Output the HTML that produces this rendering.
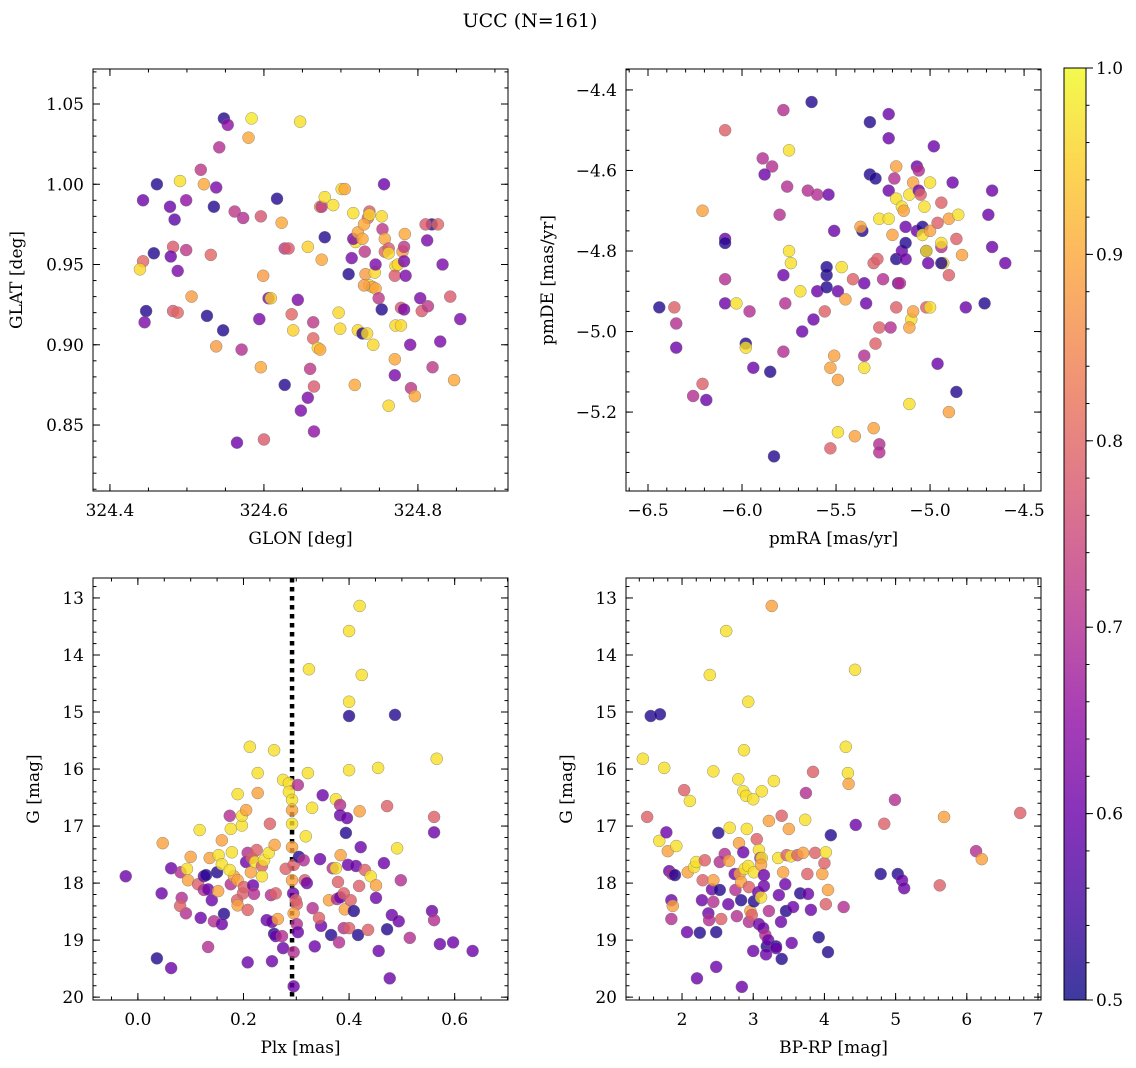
<!DOCTYPE html>
<html><head><meta charset="utf-8"><style>
body{margin:0;background:#fff}
svg{display:block;font-family:"DejaVu Serif","Liberation Serif",serif}
</style></head><body>
<svg id="s" width="1136" height="1068" viewBox="0 0 1136 1068" xmlns="http://www.w3.org/2000/svg">
<text x="530" y="27" font-size="19" text-anchor="middle">UCC (N=161)</text>
</svg>
<script>
// Panel 1 data
const glon=[324.548,324.553,324.584,324.580,324.647,324.542,324.461,324.491,324.443,324.478,324.484,324.518,324.522,324.538,324.535,324.499,324.562,324.573,324.596,324.617,324.623,324.627,324.632,324.644,324.599,324.606,324.609,324.594,324.636,324.638,324.547,324.526,324.506,324.531,324.482,324.479,324.488,324.499,324.457,324.443,324.439,324.447,324.445,324.482,324.488,324.538,324.571,324.596,324.627,324.565,324.600,324.648,324.657,324.665,324.665,324.660,324.664,324.670,324.673,324.664,324.657,324.675,324.673,324.675,324.679,324.690,324.701,324.705,324.679,324.699,324.697,324.710,324.714,324.716,324.719,324.716,324.722,324.722,324.728,324.734,324.742,324.718,324.735,324.737,324.737,324.730,324.731,324.728,324.732,324.737,324.741,324.730,324.744,324.745,324.745,324.753,324.754,324.757,324.749,324.753,324.756,324.757,324.762,324.762,324.771,324.770,324.774,324.780,324.782,324.783,324.782,324.784,324.778,324.782,324.771,324.778,324.770,324.770,324.762,324.791,324.796,324.790,324.803,324.805,324.813,324.818,324.810,324.812,324.826,324.832,324.819,324.829,324.842,324.855,324.847];
const glat=[1.041,1.037,1.041,1.029,1.039,1.023,1.000,1.002,0.990,0.986,0.978,1.009,1.000,0.998,0.986,0.990,0.983,0.979,0.980,0.991,0.976,0.960,0.960,0.928,0.943,0.929,0.929,0.916,0.919,0.909,0.909,0.918,0.930,0.956,0.961,0.955,0.946,0.959,0.957,0.952,0.947,0.921,0.914,0.921,0.920,0.899,0.897,0.886,0.875,0.839,0.841,0.859,0.867,0.874,0.846,0.885,0.904,0.898,0.897,0.914,0.961,0.953,0.986,0.986,0.992,0.987,0.997,0.997,0.967,0.910,0.920,0.944,0.954,0.982,0.964,0.966,0.970,0.909,0.907,0.907,0.900,0.875,0.979,0.983,0.981,0.975,0.958,0.966,0.944,0.937,0.936,0.937,0.945,0.935,0.950,0.980,0.972,0.958,0.929,0.922,1.000,0.966,0.960,0.957,0.949,0.943,0.950,0.958,0.961,0.969,0.952,0.943,0.923,0.922,0.912,0.912,0.891,0.881,0.862,0.873,0.868,0.900,0.929,0.921,0.924,0.975,0.975,0.965,0.975,0.950,0.886,0.902,0.930,0.916,0.878];
const prob1=[0.52,0.65,0.98,0.9,0.97,0.7,0.52,0.97,0.6,0.6,0.58,0.72,0.9,0.62,0.52,0.65,0.72,0.7,0.77,0.52,0.9,0.72,0.78,0.62,0.88,0.62,0.95,0.62,0.8,0.95,0.52,0.52,0.88,0.8,0.78,0.6,0.62,0.72,0.52,0.8,0.96,0.52,0.62,0.78,0.8,0.88,0.7,0.9,0.52,0.6,0.78,0.62,0.62,0.78,0.65,0.72,0.8,0.96,0.9,0.72,0.95,0.9,0.88,0.72,0.97,0.97,0.96,0.9,0.52,0.96,0.96,0.52,0.62,0.97,0.96,0.62,0.9,0.96,0.52,0.96,0.96,0.9,0.8,0.78,0.96,0.9,0.72,0.9,0.88,0.96,0.9,0.88,0.96,0.9,0.62,0.96,0.72,0.8,0.72,0.52,0.6,0.9,0.78,0.96,0.96,0.78,0.96,0.88,0.72,0.9,0.62,0.62,0.78,0.62,0.96,0.96,0.9,0.62,0.96,0.72,0.9,0.62,0.62,0.78,0.72,0.52,0.78,0.62,0.8,0.62,0.72,0.62,0.78,0.62,0.9];
// Panel 2 data
const pmra=[-6.44,-6.36,-6.35,-6.35,-6.21,-6.26,-6.19,-6.21,-6.09,-6.09,-6.09,-6.09,-6.09,-6.03,-5.98,-5.98,-5.94,-5.85,-5.83,-5.96,-5.78,-5.77,-5.89,-5.84,-5.88,-5.78,-5.75,-5.76,-5.80,-5.75,-5.74,-5.69,-5.78,-5.65,-5.63,-5.60,-5.54,-5.60,-5.68,-5.62,-5.55,-5.55,-5.51,-5.55,-5.56,-5.49,-5.47,-5.51,-5.53,-5.49,-5.49,-5.40,-5.53,-5.45,-5.41,-5.36,-5.37,-5.35,-5.35,-5.35,-5.34,-5.32,-5.32,-5.29,-5.30,-5.28,-5.29,-5.30,-5.27,-5.27,-5.27,-5.27,-5.25,-5.22,-5.22,-5.22,-5.22,-5.21,-5.20,-5.19,-5.18,-5.17,-5.16,-5.18,-5.15,-5.18,-5.18,-5.15,-5.14,-5.13,-5.13,-5.13,-5.11,-5.10,-5.11,-5.11,-5.09,-5.09,-5.07,-5.07,-5.06,-5.06,-5.05,-5.03,-5.04,-5.04,-5.02,-5.02,-5.01,-5.02,-5.00,-5.00,-5.00,-4.98,-4.96,-4.96,-4.94,-4.94,-4.94,-4.93,-4.94,-4.90,-4.90,-4.90,-4.88,-4.86,-4.86,-4.85,-4.83,-4.81,-4.71,-4.69,-4.67,-4.67,-4.60];
const pmde=[-4.94,-4.94,-4.98,-5.04,-5.13,-5.16,-5.17,-4.70,-4.50,-4.77,-4.78,-4.87,-4.93,-4.93,-5.03,-5.04,-5.09,-5.10,-5.31,-4.95,-5.05,-4.93,-4.57,-4.59,-4.61,-4.45,-4.55,-4.64,-4.71,-4.80,-4.83,-4.90,-4.86,-4.65,-4.43,-4.66,-4.66,-4.90,-5.00,-4.97,-4.89,-4.86,-4.75,-4.84,-4.95,-4.90,-4.84,-5.06,-5.09,-5.12,-5.25,-5.26,-5.29,-4.92,-4.87,-4.75,-4.74,-5.06,-5.09,-4.88,-4.93,-4.48,-4.61,-4.62,-4.83,-4.82,-5.03,-5.24,-4.72,-4.99,-5.28,-5.30,-4.87,-4.46,-4.52,-4.65,-4.72,-4.99,-4.76,-4.62,-4.94,-4.88,-4.88,-4.82,-4.80,-4.59,-4.67,-4.69,-4.70,-4.74,-4.78,-4.82,-4.66,-4.97,-4.99,-5.18,-4.95,-4.63,-4.59,-4.75,-4.60,-4.65,-4.66,-4.69,-4.74,-4.76,-4.80,-4.80,-4.83,-4.94,-4.94,-4.63,-4.75,-4.54,-5.08,-4.73,-4.68,-4.79,-4.78,-4.83,-4.83,-4.72,-4.86,-5.20,-4.63,-4.77,-5.15,-4.71,-4.81,-4.94,-4.93,-4.71,-4.65,-4.79,-4.83];
const prob2=[0.52,0.79,0.7,0.6,0.79,0.7,0.6,0.89,0.79,0.6,0.52,0.7,0.6,0.97,0.52,0.97,0.6,0.52,0.52,0.7,0.7,0.7,0.7,0.7,0.6,0.7,0.97,0.7,0.7,0.97,0.97,0.97,0.6,0.7,0.52,0.7,0.6,0.6,0.6,0.6,0.52,0.52,0.6,0.52,0.79,0.6,0.97,0.89,0.89,0.89,0.97,0.89,0.79,0.89,0.79,0.52,0.89,0.7,0.97,0.6,0.6,0.52,0.52,0.52,0.79,0.79,0.79,0.89,0.97,0.79,0.7,0.7,0.7,0.6,0.6,0.6,0.97,0.7,0.89,0.7,0.79,0.6,0.7,0.52,0.6,0.89,0.97,0.97,0.89,0.6,0.52,0.6,0.97,0.97,0.89,0.97,0.89,0.89,0.6,0.6,0.7,0.6,0.79,0.97,0.52,0.97,0.52,0.97,0.6,0.79,0.97,0.97,0.89,0.6,0.6,0.79,0.79,0.7,0.97,0.97,0.52,0.89,0.79,0.89,0.6,0.79,0.52,0.97,0.89,0.6,0.52,0.6,0.6,0.6,0.6];
// Panel 3 data
const plx=[-0.023,0.036,0.063,0.045,0.047,0.063,0.081,0.083,0.091,0.080,0.095,0.093,0.100,0.114,0.117,0.125,0.125,0.119,0.129,0.133,0.133,0.136,0.140,0.144,0.152,0.150,0.153,0.159,0.159,0.163,0.159,0.176,0.174,0.176,0.178,0.182,0.174,0.188,0.189,0.189,0.189,0.197,0.197,0.205,0.205,0.199,0.208,0.201,0.208,0.208,0.212,0.214,0.216,0.222,0.218,0.220,0.227,0.227,0.225,0.235,0.235,0.239,0.244,0.250,0.248,0.252,0.259,0.254,0.258,0.254,0.261,0.265,0.261,0.273,0.258,0.275,0.275,0.286,0.280,0.286,0.292,0.292,0.292,0.292,0.295,0.292,0.294,0.299,0.301,0.295,0.301,0.303,0.295,0.295,0.303,0.305,0.314,0.318,0.316,0.320,0.322,0.324,0.330,0.331,0.335,0.347,0.345,0.350,0.343,0.362,0.366,0.369,0.375,0.377,0.379,0.381,0.383,0.375,0.383,0.383,0.384,0.390,0.390,0.394,0.396,0.398,0.392,0.400,0.400,0.400,0.400,0.400,0.403,0.409,0.413,0.420,0.424,0.417,0.419,0.420,0.422,0.430,0.436,0.441,0.451,0.451,0.456,0.455,0.466,0.472,0.472,0.477,0.481,0.487,0.491,0.498,0.494,0.515,0.557,0.561,0.561,0.561,0.566,0.572,0.597,0.634];
const gmag3=[17.88,19.32,19.49,18.18,17.30,17.74,17.81,18.26,18.53,18.40,17.95,17.75,17.54,18.02,17.07,17.88,18.12,18.61,17.86,19.12,18.11,17.56,18.30,18.67,18.14,17.81,17.51,17.67,17.25,18.54,18.72,18.02,16.82,17.05,17.46,17.88,17.77,18.30,18.39,16.44,17.95,16.99,16.82,16.72,17.63,18.18,17.47,18.07,18.47,19.39,15.61,17.81,17.56,17.63,18.04,18.19,16.07,16.42,17.42,17.70,17.88,17.60,18.65,16.96,17.47,18.21,17.33,18.68,18.89,19.37,18.18,18.63,18.93,18.93,15.67,16.19,19.14,16.25,17.75,16.40,16.72,16.54,16.96,17.37,17.68,17.95,18.18,18.30,18.37,18.53,18.72,18.86,19.21,19.81,16.28,17.54,17.60,17.18,17.95,18.00,16.07,14.25,16.68,18.44,19.11,18.75,17.58,16.46,18.61,18.30,18.91,17.74,17.74,18.28,17.98,19.04,18.25,16.53,16.63,16.81,17.51,18.18,18.79,17.12,16.86,17.68,18.46,13.58,14.82,15.07,16.02,18.79,18.30,18.49,17.70,13.14,14.35,18.91,18.05,16.74,17.37,17.77,18.82,17.88,18.04,18.26,19.19,15.98,17.65,16.65,18.81,19.67,18.56,15.05,17.39,17.95,18.67,18.96,18.49,16.84,17.11,18.65,15.82,19.07,19.04,19.19];
const prob3=[0.6,0.52,0.6,0.6,0.89,0.6,0.7,0.7,0.7,0.79,0.89,0.97,0.89,0.79,0.97,0.6,0.7,0.6,0.52,0.7,0.6,0.89,0.6,0.7,0.89,0.52,0.97,0.97,0.89,0.52,0.6,0.7,0.7,0.97,0.97,0.89,0.97,0.79,0.89,0.97,0.89,0.97,0.97,0.89,0.6,0.79,0.7,0.79,0.79,0.6,0.97,0.89,0.79,0.97,0.6,0.7,0.97,0.89,0.79,0.79,0.97,0.97,0.6,0.79,0.97,0.7,0.89,0.6,0.52,0.6,0.79,0.89,0.6,0.7,0.97,0.97,0.6,0.97,0.79,0.97,0.89,0.97,0.97,0.89,0.79,0.89,0.6,0.79,0.79,0.89,0.7,0.6,0.7,0.6,0.7,0.52,0.7,0.97,0.79,0.6,0.97,0.97,0.97,0.7,0.6,0.6,0.6,0.6,0.79,0.89,0.52,0.7,0.97,0.7,0.79,0.7,0.6,0.97,0.7,0.6,0.89,0.79,0.7,0.52,0.6,0.6,0.89,0.97,0.97,0.52,0.97,0.79,0.79,0.52,0.6,0.97,0.97,0.52,0.79,0.89,0.6,0.79,0.79,0.97,0.89,0.6,0.6,0.97,0.6,0.79,0.52,0.6,0.6,0.52,0.97,0.7,0.6,0.7,0.6,0.79,0.6,0.7,0.97,0.6,0.6,0.6];
// Panel 4 data
const bprp=[1.45,1.51,1.56,1.69,1.75,1.68,1.78,1.80,1.82,1.86,1.85,1.85,1.87,1.92,1.90,2.03,2.07,2.08,2.11,2.17,2.20,2.21,2.25,2.28,2.29,2.32,2.37,2.38,2.39,2.42,2.44,2.44,2.44,2.48,2.48,2.51,2.53,2.55,2.53,2.60,2.62,2.65,2.67,2.66,2.74,2.75,2.77,2.79,2.80,2.81,2.83,2.84,2.83,2.86,2.86,2.87,2.88,2.90,2.93,2.91,2.93,2.94,2.96,2.94,2.98,3.00,3.01,3.01,3.00,3.05,3.07,3.08,3.08,3.10,3.11,3.12,3.12,3.11,3.14,3.15,3.15,3.17,3.19,3.18,3.21,3.22,3.22,3.26,3.29,3.32,3.32,3.35,3.36,3.39,3.40,3.40,3.42,3.45,3.46,3.47,3.50,3.53,3.54,3.56,3.62,3.66,3.70,3.73,3.74,3.76,3.77,3.81,3.84,3.87,3.92,3.97,4.00,4.02,4.02,4.05,4.05,4.09,4.27,4.30,4.33,4.34,4.43,4.44,4.79,4.84,4.99,5.03,5.09,5.12,5.62,5.68,6.13,6.21,6.75];
const gmag4=[15.82,16.84,15.07,15.04,15.98,17.26,17.11,17.44,17.79,17.84,18.30,18.63,18.40,17.35,17.86,16.37,18.86,17.81,16.56,17.72,17.63,19.67,18.87,18.30,17.95,17.60,18.53,18.65,14.35,18.11,16.04,18.33,17.95,19.47,18.86,17.12,18.12,18.63,17.63,17.49,13.58,18.37,17.03,17.61,17.84,18.12,18.58,16.18,17.30,17.84,17.98,19.82,18.30,16.39,17.46,15.67,17.75,16.47,14.82,17.05,17.70,18.07,18.49,18.68,18.56,16.53,17.81,18.32,19.19,17.23,18.16,18.72,17.42,17.56,18.25,16.39,17.56,17.68,18.79,17.86,18.05,18.91,19.11,19.25,19.00,18.49,16.91,13.14,16.21,19.11,19.14,17.56,18.21,18.68,19.33,16.82,17.81,18.02,18.49,17.51,17.05,17.53,19.05,18.42,17.51,18.18,17.47,16.89,16.42,17.84,18.19,18.47,16.05,17.47,18.95,17.84,17.65,18.37,17.46,19.21,18.12,17.16,18.42,15.61,16.07,16.26,14.26,16.98,17.84,16.96,16.54,17.84,17.95,18.09,18.04,16.84,17.44,17.58,16.77];
const prob4=[0.97,0.79,0.52,0.52,0.97,0.97,0.6,0.89,0.6,0.7,0.6,0.7,0.89,0.97,0.52,0.79,0.6,0.89,0.97,0.97,0.97,0.6,0.52,0.6,0.79,0.79,0.6,0.7,0.97,0.6,0.97,0.7,0.89,0.6,0.52,0.52,0.52,0.79,0.7,0.7,0.97,0.6,0.97,0.89,0.6,0.7,0.7,0.97,0.89,0.89,0.89,0.6,0.52,0.97,0.6,0.97,0.97,0.97,0.97,0.97,0.97,0.79,0.89,0.7,0.79,0.97,0.97,0.52,0.6,0.79,0.6,0.6,0.97,0.7,0.97,0.97,0.97,0.89,0.6,0.6,0.6,0.7,0.52,0.6,0.6,0.7,0.89,0.89,0.97,0.52,0.6,0.97,0.6,0.6,0.52,0.79,0.89,0.6,0.52,0.79,0.89,0.97,0.6,0.6,0.79,0.52,0.89,0.97,0.7,0.79,0.6,0.6,0.79,0.79,0.52,0.89,0.79,0.79,0.97,0.52,0.89,0.52,0.7,0.97,0.97,0.89,0.97,0.6,0.52,0.79,0.7,0.52,0.6,0.6,0.79,0.89,0.7,0.89,0.79];
const cbTicks=[0.5,0.6,0.7,0.8,0.9,1.0];
const plxLine=0.292;

const NS='http://www.w3.org/2000/svg';
const svg=document.getElementById('s');
function mk(tag,attrs,parent){const e=document.createElementNS(NS,tag);for(const k in attrs)e.setAttribute(k,attrs[k]);(parent||svg).appendChild(e);return e;}
const stops=[[0,[13,8,135]],[0.1,[65,4,157]],[0.2,[106,0,168]],[0.3,[143,13,164]],[0.4,[177,42,144]],[0.5,[204,71,120]],[0.6,[225,100,98]],[0.7,[242,132,75]],[0.8,[252,166,54]],[0.9,[252,206,37]],[1,[240,249,33]]];
function plasma(t){t=Math.max(0,Math.min(1,t));for(let i=1;i<stops.length;i++){if(t<=stops[i][0]){const a=stops[i-1],b=stops[i];const f=(t-a[0])/(b[0]-a[0]);const c=a[1].map((v,j)=>Math.round(v+(b[1][j]-v)*f));return `rgb(${c[0]},${c[1]},${c[2]})`;}}return 'rgb(240,249,33)';}
function cnorm(p){return plasma((p-0.5)/0.5);}

function panel(o){
  const {x0,x1,y0,y1,xmin,xmax,ymin,ymax,inv,name}=o;
  const sx=v=>x0+(v-xmin)/(xmax-xmin)*(x1-x0);
  const sy=inv?(v=>y0+(v-ymin)/(ymax-ymin)*(y1-y0)):(v=>y1-(v-ymin)/(ymax-ymin)*(y1-y0));
  const g=mk('g',{});
  
  
  const clip=mk('clipPath',{id:'c'+name},g);mk('rect',{x:x0,y:y0,width:x1-x0,height:y1-y0},clip);
  const pts=mk('g',{'clip-path':'url(#c'+name+')'},g);
  if(o.vline!==undefined){const l=mk('line',{x1:sx(o.vline),x2:sx(o.vline),y1:y0,y2:y1,stroke:'#000','stroke-width':4.5,'stroke-dasharray':'4.5,4.5'},pts);
    
    }
  for(let i=0;i<o.xs.length;i++){
    const c=mk('circle',{cx:sx(o.xs[i]),cy:sy(o.ys[i]),r:6,fill:cnorm(o.ps[i]),'fill-opacity':0.8,stroke:'#777','stroke-width':0.5,'stroke-opacity':0.8},pts);
    
    
  }
  mk('rect',{x:x0,y:y0,width:x1-x0,height:y1-y0,fill:'none',stroke:'#000','stroke-width':1},g);
  const tk=(v,major,axis)=>{const L=major?7:3.5;
    if(axis==='x'){const X=sx(v);mk('line',{x1:X,x2:X,y1:y1,y2:y1-L,stroke:'#000'},g);mk('line',{x1:X,x2:X,y1:y0,y2:y0+L,stroke:'#000'},g);}
    else{const Y=sy(v);mk('line',{x1:x0,x2:x0+L,y1:Y,y2:Y,stroke:'#000'},g);mk('line',{x1:x1,x2:x1-L,y1:Y,y2:Y,stroke:'#000'},g);}};
  const eps=1e-9;
  for(let v=Math.ceil(xmin/o.xminor-eps)*o.xminor;v<=xmax+eps;v+=o.xminor)tk(v,false,'x');
  for(let v=Math.ceil(ymin/o.yminor-eps)*o.yminor;v<=ymax+eps;v+=o.yminor)tk(v,false,'y');
  o.xt.forEach(v=>{tk(v,true,'x');const t=mk('text',{x:sx(v),y:y1+25,'font-size':17,'text-anchor':'middle'},g);t.textContent=o.xf(v);
    
    });
  o.yt.forEach(v=>{tk(v,true,'y');const t=mk('text',{x:x0-9,y:sy(v)+6,'font-size':17,'text-anchor':'end'},g);t.textContent=o.yf(v);
    
    });
  const xl=mk('text',{x:(x0+x1)/2,y:y1+53,'font-size':17,'text-anchor':'middle'},g);xl.textContent=o.xlab;
  
  
  const yx=o.ylx,yc=(y0+y1)/2;
  const yl=mk('text',{x:yx,y:yc,'font-size':17,'text-anchor':'middle',transform:`rotate(-90 ${yx} ${yc})`},g);yl.textContent=o.ylab;
  
  
}
const mns=v=>v<0?'\u2212'+Math.abs(v).toFixed(1):v.toFixed(1);
panel({name:'glon-glat-panel',x0:93,x1:508,y0:69,y1:491,xmin:324.378,xmax:324.917,ymin:0.8089,ymax:1.0718,xs:glon,ys:glat,ps:prob1,xminor:0.05,yminor:0.01,xt:[324.4,324.6,324.8],yt:[0.85,0.9,0.95,1.0,1.05],xf:v=>v.toFixed(1),yf:v=>v.toFixed(2),xlab:'GLON [deg]',ylab:'GLAT [deg]',ylx:22});
panel({name:'pm-panel',x0:626,x1:1041,y0:69,y1:491,xmin:-6.617,xmax:-4.41,ymin:-5.396,ymax:-4.348,xs:pmra,ys:pmde,ps:prob2,xminor:0.1,yminor:0.05,xt:[-6.5,-6,-5.5,-5,-4.5],yt:[-5.2,-5,-4.8,-4.6,-4.4],xf:mns,yf:mns,xlab:'pmRA [mas/yr]',ylab:'pmDE [mas/yr]',ylx:553});
panel({name:'plx-g-panel',x0:93,x1:508,y0:578,y1:1000,xmin:-0.085,xmax:0.701,ymin:12.65,ymax:20.05,inv:true,xs:plx,ys:gmag3,ps:prob3,vline:plxLine,xminor:0.05,yminor:0.2,xt:[0,0.2,0.4,0.6],yt:[13,14,15,16,17,18,19,20],xf:v=>v.toFixed(1),yf:v=>String(v),xlab:'Plx [mas]',ylab:'G [mag]',ylx:39});
panel({name:'color-g-panel',x0:626,x1:1041,y0:578,y1:1000,xmin:1.213,xmax:7.042,ymin:12.65,ymax:20.05,inv:true,xs:bprp,ys:gmag4,ps:prob4,xminor:0.2,yminor:0.2,xt:[2,3,4,5,6,7],yt:[13,14,15,16,17,18,19,20],xf:v=>String(v),yf:v=>String(v),xlab:'BP-RP [mag]',ylab:'G [mag]',ylx:572});
// colorbar
const defs=mk('defs',{});const lg=mk('linearGradient',{id:'cbg',x1:0,y1:1,x2:0,y2:0},defs);
for(let i=0;i<=20;i++){mk('stop',{offset:i/20,'stop-color':plasma(i/20),'stop-opacity':0.8},lg);}
const cb=mk('g',{});


const cy0=68,cy1=1000,cx0=1064,cx1=1086;
mk('rect',{x:cx0,y:cy0,width:cx1-cx0,height:cy1-cy0,fill:'url(#cbg)',stroke:'#000','stroke-width':1},cb);
const cby=v=>cy1-(v-0.5)/0.5*(cy1-cy0);
for(let v=0.5;v<=1.0001;v+=0.02){mk('line',{x1:cx1,x2:cx1+3.5,y1:cby(v),y2:cby(v),stroke:'#000'},cb);}
cbTicks.forEach(v=>{mk('line',{x1:cx1,x2:cx1+7,y1:cby(v),y2:cby(v),stroke:'#000'},cb);
  const t=mk('text',{x:1096,y:cby(v)+6,'font-size':17},cb);t.textContent=v.toFixed(1);
  
  });
</script>
</body></html>
